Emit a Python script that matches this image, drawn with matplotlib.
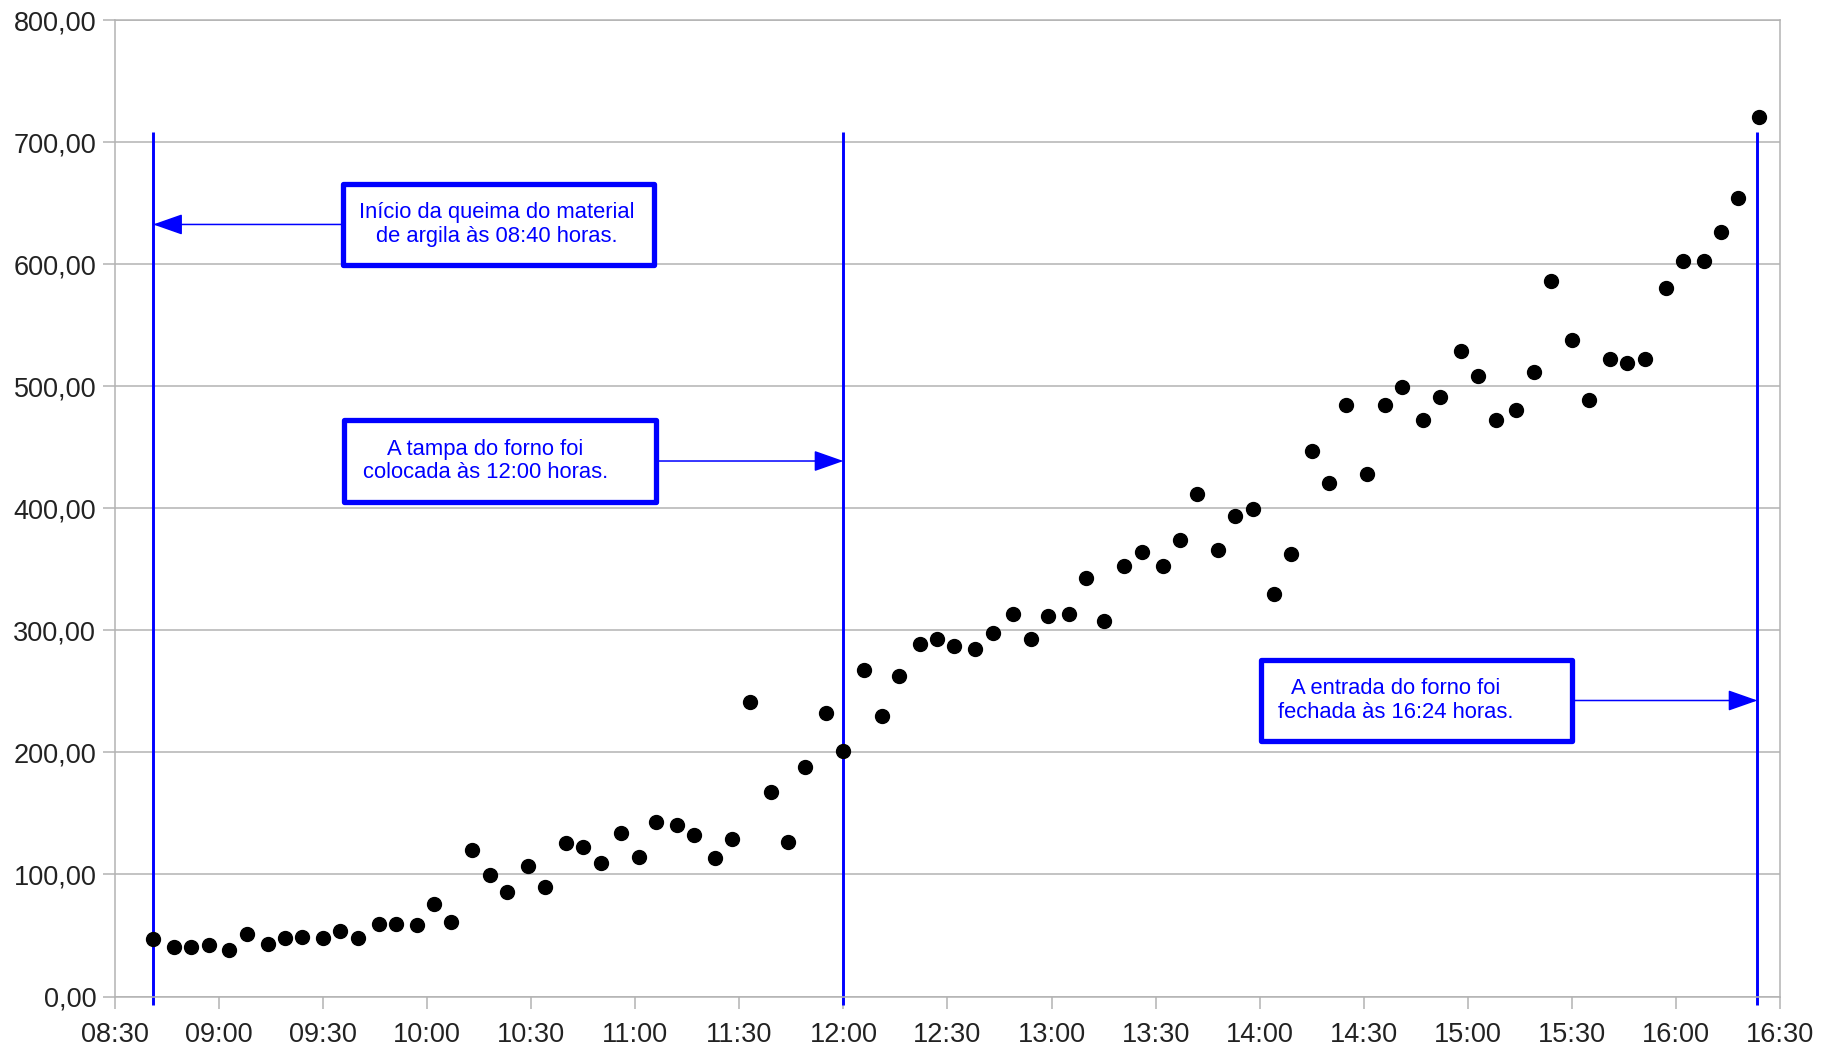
import matplotlib
matplotlib.use("Agg")
import matplotlib.pyplot as plt
from matplotlib.patches import FancyBboxPatch
from matplotlib.ticker import FuncFormatter, MultipleLocator

plt.rcParams["font.family"] = ["Liberation Sans", "DejaVu Sans"]

# horario de cada leitura do termopar
horarios = [
    "08:41", "08:47", "08:52", "08:57", "09:03", "09:08", "09:14", "09:19", "09:24", "09:30",
    "09:35", "09:40", "09:46", "09:51", "09:57", "10:02", "10:07", "10:13", "10:18", "10:23",
    "10:29", "10:34", "10:40", "10:45", "10:50", "10:56", "11:01", "11:06", "11:12", "11:17",
    "11:23", "11:28", "11:33", "11:39", "11:44", "11:49", "11:55", "12:00", "12:06", "12:11",
    "12:16", "12:22", "12:27", "12:32", "12:38", "12:43", "12:49", "12:54", "12:59", "13:05",
    "13:10", "13:15", "13:21", "13:26", "13:32", "13:37", "13:42", "13:48", "13:53", "13:58",
    "14:04", "14:09", "14:15", "14:20", "14:25", "14:31", "14:36", "14:41", "14:47", "14:52",
    "14:58", "15:03", "15:08", "15:14", "15:19", "15:24", "15:30", "15:35", "15:41", "15:46",
    "15:51", "15:57", "16:02", "16:08", "16:13", "16:18", "16:24",
]

# temperatura lida (graus C)
temperaturas = [
    46.9, 40.2, 40.2, 42.2, 38.3, 50.8, 43.1, 47.9, 48.9, 47.9,
    53.7, 47.9, 59.4, 59.4, 58.4, 75.7, 61.3, 119.8, 99.6, 85.3,
    107.3, 90.1, 125.5, 122.6, 109.2, 134.1, 114.0, 142.8, 140.8, 132.2,
    113.1, 129.3, 241.4, 167.7, 126.5, 187.8, 231.9, 201.2, 267.3, 229.9,
    262.5, 288.4, 293.2, 287.4, 284.6, 298.0, 313.3, 293.2, 311.4, 313.3,
    343.0, 307.5, 352.6, 364.1, 352.6, 373.7, 412.0, 366.0, 393.8, 399.5,
    329.6, 362.2, 446.5, 420.6, 484.8, 428.3, 484.8, 499.2, 472.3, 491.5,
    528.9, 508.7, 472.3, 480.9, 511.6, 586.3, 537.5, 488.6, 522.2, 519.3,
    522.2, 580.6, 602.6, 602.6, 626.6, 654.4, 720.5,
]

# momentos marcados no grafico
eventos = ["08:41", "12:00", "16:23.5"]

textos = [
    "Início da queima do material\nde argila às 08:40 horas.",
    "A tampa do forno foi\ncolocada às 12:00 horas.",
    "A entrada do forno foi\nfechada às 16:24 horas.",
]


def minutos(hhmm):
    h, m = hhmm.split(":")
    return int(h) * 60 + float(m)


x = [minutos(h) for h in horarios]
x_eventos = [minutos(h) for h in eventos]

AZUL = "#0000ff"
CINZA = "#b3b3b3"

fig = plt.figure(figsize=(18.34, 10.51), dpi=100)
ax = fig.add_axes([115 / 1834, 1 - 996.5 / 1051, 1665 / 1834, 976.5 / 1051])

ax.set_xlim(minutos("08:30"), minutos("16:30"))
ax.set_ylim(0, 800)
ax.xaxis.set_major_locator(MultipleLocator(30))
ax.yaxis.set_major_locator(MultipleLocator(100))
ax.xaxis.set_major_formatter(FuncFormatter(lambda v, p: f"{int(v) // 60:02d}:{int(v) % 60:02d}"))
ax.yaxis.set_major_formatter(FuncFormatter(lambda v, p: f"{v:.2f}".replace(".", ",")))

ax.grid(axis="y", color=CINZA, lw=1.1)
ax.set_axisbelow(True)
for lado in ax.spines.values():
    lado.set_color(CINZA)
    lado.set_linewidth(1.1)
ax.tick_params(length=8.5, width=1.1, color=CINZA, labelsize=19.5, labelcolor="#222222")
ax.tick_params(axis="x", pad=10)
ax.tick_params(axis="y", pad=5)

ax.vlines(x_eventos, -7, 708, color=AZUL, lw=2.1, zorder=2, clip_on=False)
ax.plot(x, temperaturas, "o", color="black", ms=10, zorder=3)

# caixas de texto: (x0, x1, y0, y1, x do texto)
caixas = [
    (575.6, 665.5, 599.5, 665.5, 620.1),
    (576.0, 666.0, 405.5, 471.9, 616.7),
    (840.4, 930.0, 209.7, 275.3, 879.3),
]

for (x0, x1, y0, y1, xt), texto, xe in zip(caixas, textos, x_eventos):
    ax.add_patch(FancyBboxPatch((x0, y0), x1 - x0, y1 - y0, boxstyle="square,pad=0",
                                fc="white", ec=AZUL, lw=3.8, joinstyle="round", zorder=4))
    yc = (y0 + y1) / 2
    ax.text(xt, yc, texto, ha="center", va="center", color=AZUL, fontsize=15.8,
            linespacing=1.15, zorder=5)
    borda = x0 if xe < x0 else x1
    ax.annotate("", xy=(xe, yc), xytext=(borda, yc),
                arrowprops=dict(arrowstyle="-|>,head_length=1.85,head_width=0.65",
                                color=AZUL, lw=1.1, shrinkA=0, shrinkB=0,
                                mutation_scale=10), zorder=3)

fig.savefig("out.png", dpi=100)
